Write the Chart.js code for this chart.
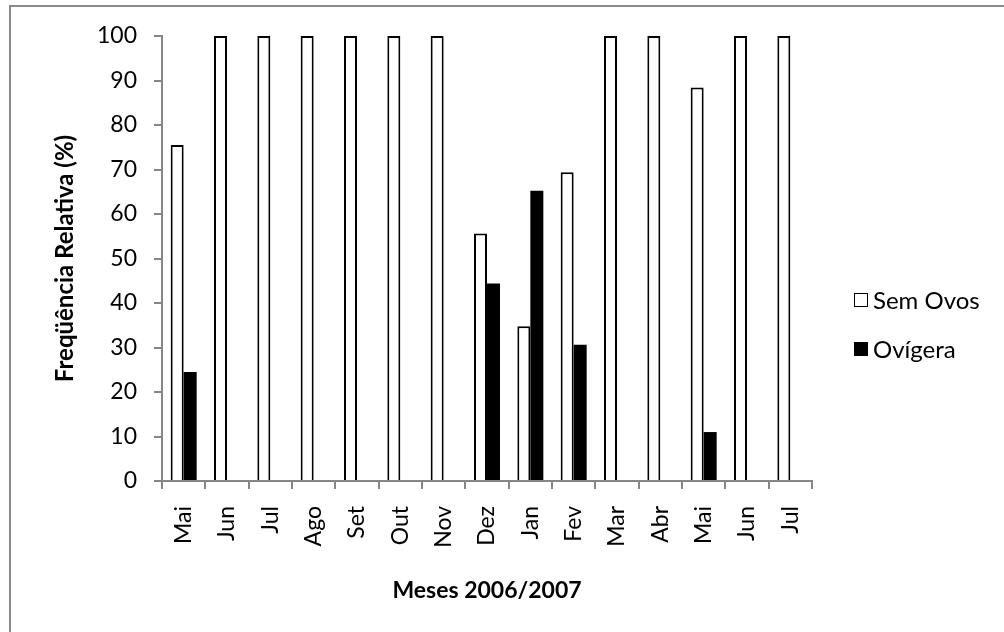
<!DOCTYPE html>
<html lang="pt">
<head>
    <meta charset="UTF-8">
    <title>Freqüência Relativa</title>
    <script src="https://cdn.jsdelivr.net/npm/chart.js@4.4.1/dist/chart.umd.min.js"></script>
    <style>
        body { margin: 0; background: #fff; overflow: hidden; }
        #wrap { position: relative; width: 1004px; height: 632px; }
        #frame {
            position: absolute; left: 9px; top: 5px;
            width: 1100px; height: 700px;
            border: 2px solid #8a8a8a; box-sizing: border-box;
        }
        canvas { position: absolute; left: 0; top: 0; }
        #legend {
            position: absolute; left: 854px; top: 285px;
            font-family: Lato, sans-serif; font-size: 24px; color: #000;
        }
        .item { display: flex; align-items: center; height: 29px; margin-bottom: 20px; }
        .box { width: 14px; height: 14px; box-sizing: border-box; margin-right: 5px; }
    </style>
</head>
<body>
<div id="wrap">
    <div id="frame"></div>
    <canvas id="chart" width="1004" height="632"></canvas>
    <div id="legend"></div>
</div>
<script>
    const meses = ["Mai", "Jun", "Jul", "Ago", "Set", "Out", "Nov", "Dez", "Jan", "Fev", "Mar", "Abr", "Mai", "Jun", "Jul"]
    const semOvos = [75.5, 100, 100, 100, 100, 100, 100, 55.6, 34.8, 69.4, 100, 100, 88.4, 100, 100]
    const ovigera = [24.5, 0, 0, 0, 0, 0, 0, 44.4, 65.2, 30.6, 0, 0, 11.0, 0, 0]
    const yTicks = [0, 10, 20, 30, 40, 50, 60, 70, 80, 90, 100]

    const axisGrey = "#868686"
    const tickFont = { family: "Lato", size: 23 }

    const chart = new Chart(document.getElementById("chart"), {
        type: 'bar',
        data: {
            labels: meses,
            datasets: [
                { label: "Sem Ovos", data: semOvos, backgroundColor: "#ffffff", borderColor: "#000000", borderWidth: 2 },
                { label: "Ovígera", data: ovigera, backgroundColor: "#000000", borderColor: "#000000", borderWidth: 0 }
            ]
        },
        options: {
            responsive: false,
            animation: false,
            layout: { padding: { left: 0, right: 192, top: 36, bottom: 0 } },
            datasets: { bar: { categoryPercentage: 0.6, barPercentage: 1.0 } },
            plugins: {
                legend: { display: false },
                tooltip: { enabled: false }
            },
            scales: {
                x: {
                    grid: { drawOnChartArea: false, drawTicks: true, tickLength: 8, color: axisGrey, lineWidth: 2 },
                    border: { display: true, color: axisGrey, width: 2 },
                    ticks: { color: "#000", font: tickFont, minRotation: 90, maxRotation: 90, padding: 17 },
                    title: { display: true, text: "Meses 2006/2007", color: "#000",
                             font: { family: "Lato", size: 23, weight: "bold" }, padding: { top: 0, bottom: 28 } },
                    afterFit: s => { s.height = 632 - 481 }
                },
                y: {
                    min: 0, max: 100,
                    afterBuildTicks: s => { s.ticks = yTicks.map(v => ({ value: v })) },
                    grid: { drawOnChartArea: false, drawTicks: true, tickLength: 8, color: axisGrey, lineWidth: 2 },
                    border: { display: true, color: axisGrey, width: 2 },
                    ticks: { color: "#000", font: tickFont, padding: 17 },
                    title: { display: true, text: "Freqüência Relativa (%)", color: "#000",
                             font: { family: "Lato", size: 24, weight: "bold" }, padding: { top: 51, bottom: 0 } },
                    afterFit: s => { s.width = 162 }
                }
            }
        }
    })

    // legenda em HTML, a partir dos datasets
    let html = ""
    chart.data.datasets.forEach(ds => {
        html += `<div class="item"><span class="box" style="background:${ds.backgroundColor};border:1.5px solid #000"></span>${ds.label}</div>`
    })
    document.getElementById("legend").innerHTML = html
</script>
</body>
</html>
